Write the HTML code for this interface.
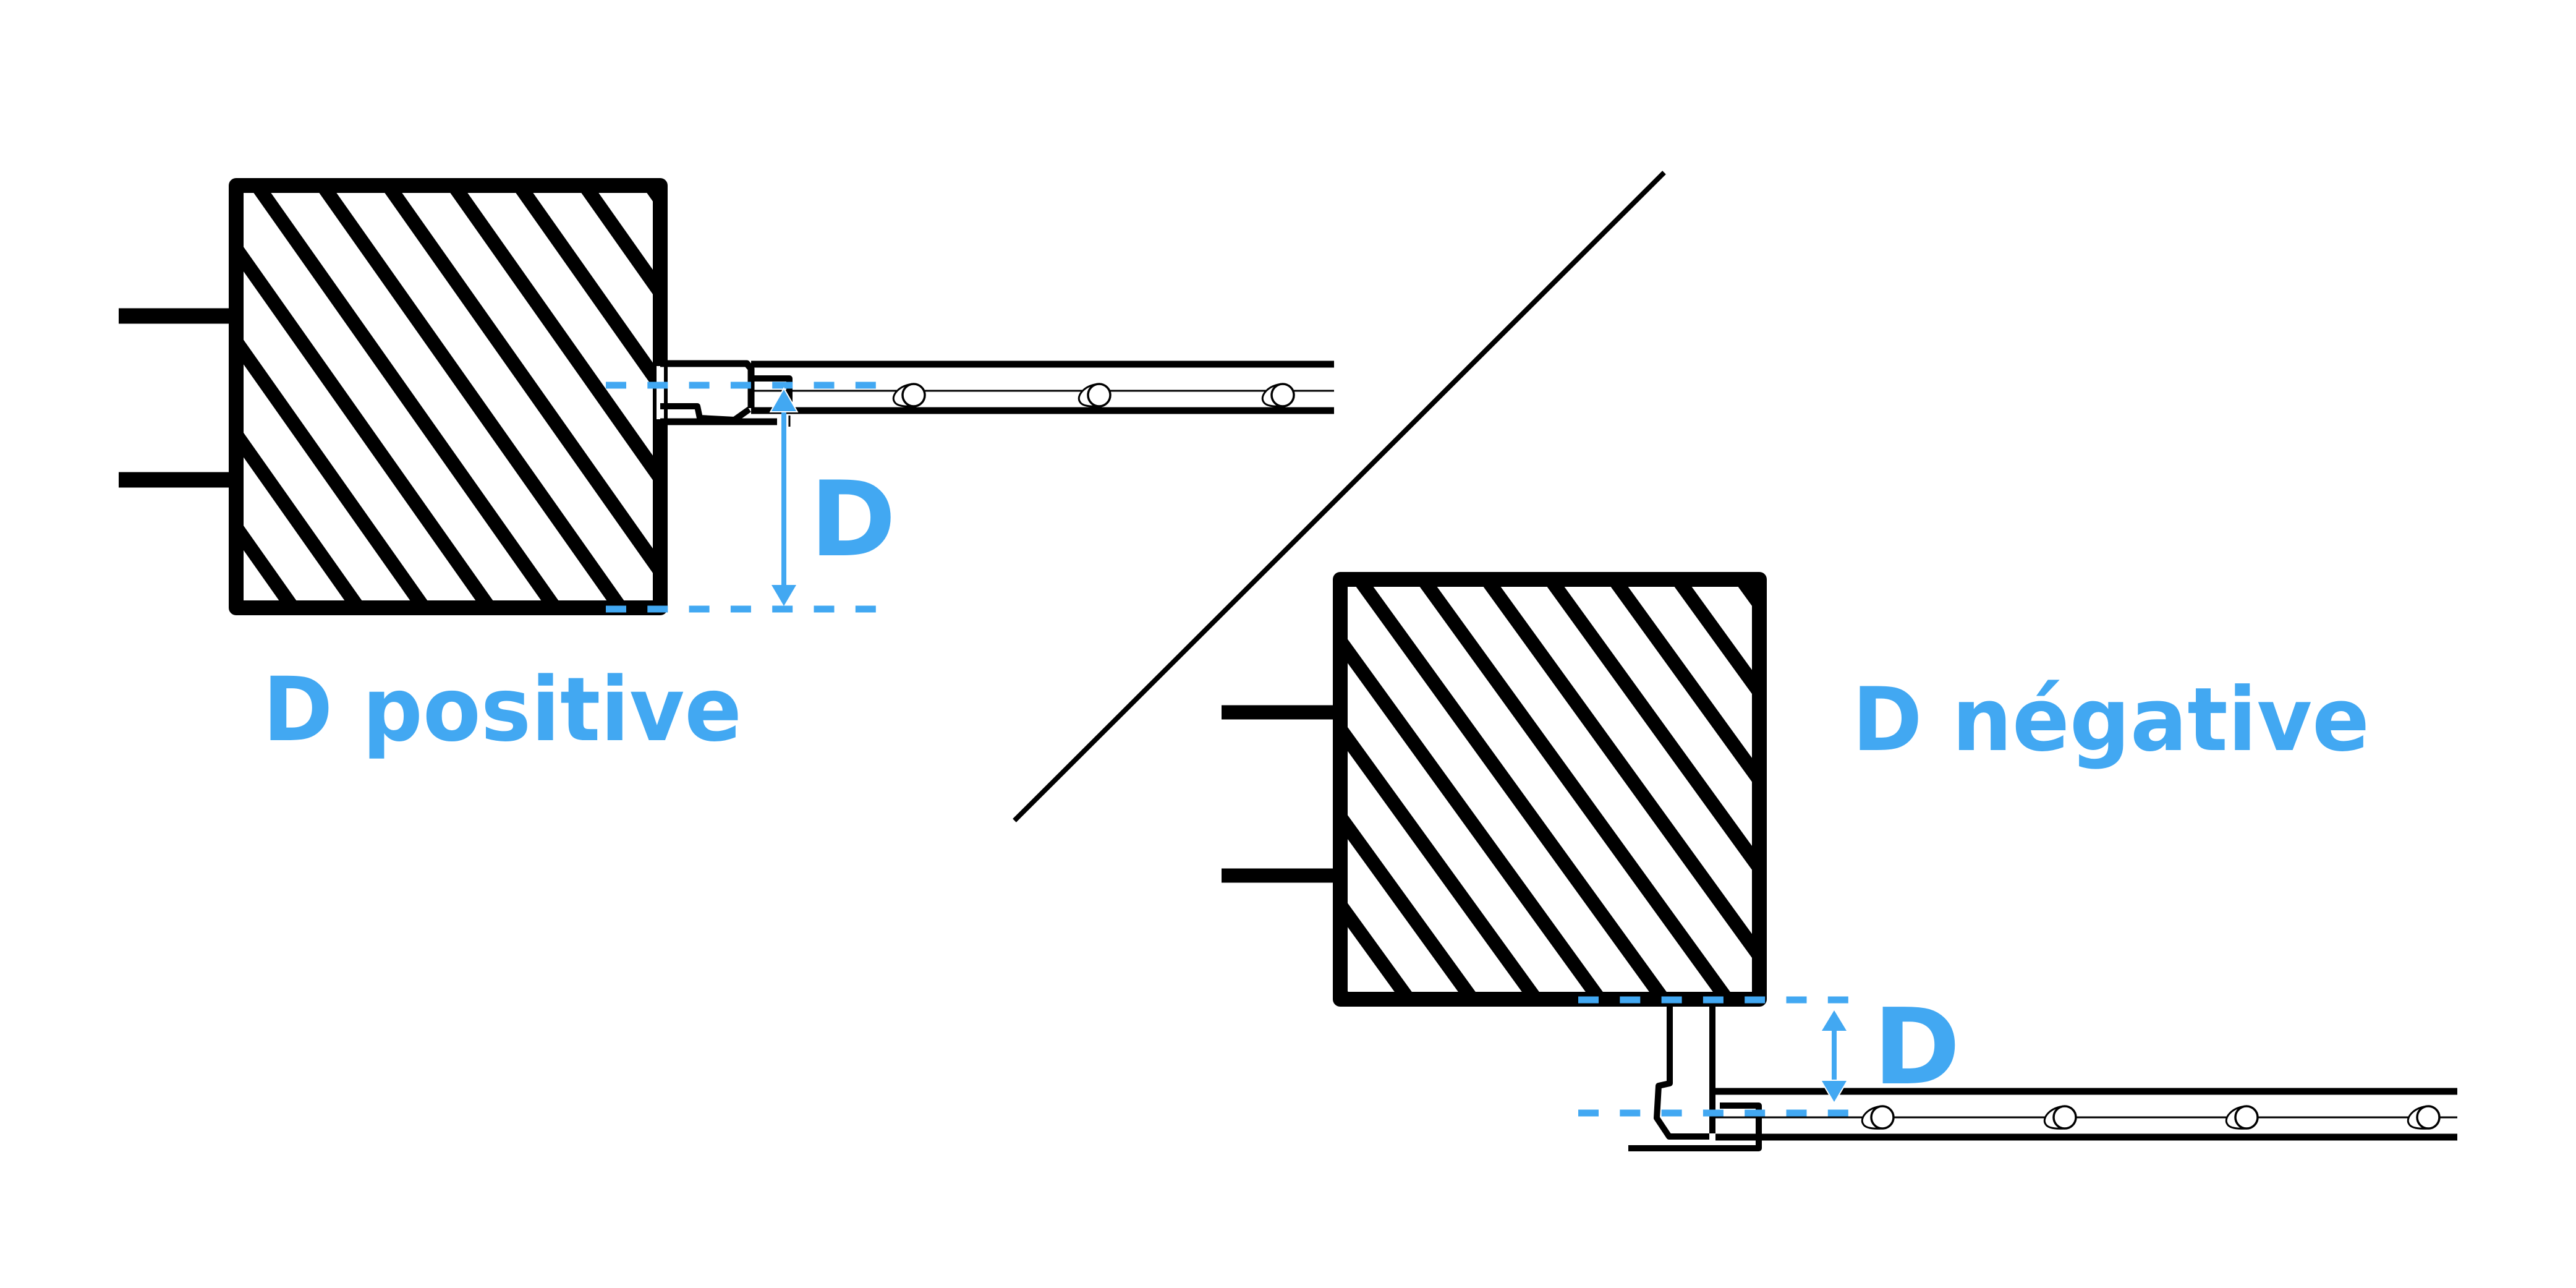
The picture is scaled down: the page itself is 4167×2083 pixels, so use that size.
<!DOCTYPE html>
<html><head><meta charset="utf-8"><style>
html,body{margin:0;padding:0;background:#fff;}
svg{display:block;}
text{font-family:"DejaVu Sans","Liberation Sans",sans-serif;font-weight:bold;fill:#42a8f2;}
</style></head><body>
<svg width="4167" height="2083" viewBox="0 0 4167 2083" xmlns="http://www.w3.org/2000/svg">
<defs>
  <pattern id="hL" patternUnits="userSpaceOnUse" x="190.3" y="0" width="106" height="4000" patternTransform="skewX(35.2)">
    <rect x="0" y="-10" width="28" height="4020" fill="#000"/>
  </pattern>
  <pattern id="hR" patternUnits="userSpaceOnUse" x="1506.7" y="0" width="103" height="4000" patternTransform="skewX(35.9)">
    <rect x="0" y="-10" width="28" height="4020" fill="#000"/>
  </pattern>
  <g id="roller">
    <path d="M1478,621 C1455,622 1440,640 1447,650 C1450,656 1462,658 1478,657" fill="#fff" stroke="#000" stroke-width="3"/>
    <ellipse cx="1478" cy="639" rx="18" ry="18" fill="#fff" stroke="#000" stroke-width="3.5"/>
  </g>
</defs>

<!-- LEFT box -->
<rect x="394" y="312" width="662" height="659" fill="url(#hL)"/>
<rect x="382" y="300" width="686" height="683" fill="none" stroke="#000" stroke-width="24" stroke-linejoin="round"/>
<line x1="192" y1="511" x2="382" y2="511" stroke="#000" stroke-width="25"/>
<line x1="192" y1="776" x2="382" y2="776" stroke="#000" stroke-width="25"/>
<rect x="1062" y="592" width="12" height="86" fill="#fff"/>

<!-- LEFT fitting & pipe -->
<g stroke="#000" fill="none" stroke-linejoin="round">
  <polyline points="1068,588 1208,588 1215,596 1215,660" stroke-width="11"/>
  <line x1="1215" y1="589" x2="2158" y2="589" stroke-width="11"/>
  <polyline points="1215,612 1277,612 1277,650" stroke-width="10"/>
  <line x1="1277" y1="672" x2="1277" y2="690" stroke-width="3"/>
  <line x1="1218" y1="632" x2="2158" y2="632" stroke-width="3"/>
  <line x1="1215" y1="664" x2="2158" y2="664" stroke-width="11"/>
  <polyline points="1068,657 1128,657 1132,676 1188,679 1212,662" stroke-width="10"/>
  <line x1="1068" y1="682" x2="1257" y2="682" stroke-width="11"/>
</g>
<use href="#roller"/>
<use href="#roller" x="300"/>
<use href="#roller" x="597"/>

<!-- LEFT blue dims -->
<g stroke="#42a8f2" stroke-width="11" stroke-dasharray="33 34.3">
  <line x1="980" y1="623" x2="1420" y2="623"/>
  <line x1="980" y1="985" x2="1420" y2="985"/>
</g>
<line x1="1268" y1="660" x2="1268" y2="952" stroke="#42a8f2" stroke-width="8"/>
<polygon points="1268,630 1288,665 1248,665" fill="#42a8f2" stroke="#fff" stroke-width="4" paint-order="stroke"/>
<polygon points="1268,980 1288,946 1248,946" fill="#42a8f2"/>
<text x="1310" y="898" font-size="168">D</text>
<text x="425" y="1197" font-size="143" textLength="775" lengthAdjust="spacingAndGlyphs">D positive</text>

<!-- diagonal divider -->
<line x1="1641" y1="1327" x2="2692" y2="279" stroke="#000" stroke-width="8"/>

<!-- RIGHT box -->
<rect x="2180" y="949" width="654" height="655" fill="url(#hR)"/>
<rect x="2168" y="937" width="678" height="679" fill="none" stroke="#000" stroke-width="24" stroke-linejoin="round"/>
<line x1="1976" y1="1152" x2="2168" y2="1152" stroke="#000" stroke-width="23"/>
<line x1="1976" y1="1416" x2="2168" y2="1416" stroke="#000" stroke-width="23"/>

<!-- RIGHT fitting & pipe -->
<g stroke="#000" fill="none" stroke-linejoin="round">
  <polyline points="2701,1628 2701,1752 2683,1756 2680,1808 2700,1838 2765,1838" stroke-width="10"/>
  <line x1="2770" y1="1628" x2="2770" y2="1833" stroke-width="10"/>
  <line x1="2770" y1="1765" x2="3975" y2="1765" stroke-width="11"/>
  <line x1="2775" y1="1839" x2="3975" y2="1839" stroke-width="11"/>
  <line x1="2775" y1="1807" x2="3975" y2="1807" stroke-width="3"/>
  <polyline points="2782,1788 2845,1788 2845,1857 2634,1857" stroke-width="10"/>
</g>
<use href="#roller" x="1567" y="1168"/>
<use href="#roller" x="1862" y="1168"/>
<use href="#roller" x="2156" y="1168"/>
<use href="#roller" x="2450" y="1168"/>

<!-- RIGHT blue dims -->
<g stroke="#42a8f2" stroke-width="11" stroke-dasharray="33 34.3">
  <line x1="2553" y1="1617" x2="2990" y2="1617"/>
  <line x1="2553" y1="1800" x2="2990" y2="1800"/>
</g>
<line x1="2967" y1="1660" x2="2967" y2="1755" stroke="#42a8f2" stroke-width="8"/>
<polygon points="2967,1634 2987,1667 2947,1667" fill="#42a8f2"/>
<polygon points="2967,1782 2987,1748 2947,1748" fill="#42a8f2" stroke="#fff" stroke-width="4" paint-order="stroke"/>
<text x="3030" y="1752" font-size="170">D</text>
<text x="2996" y="1213" font-size="142" textLength="837" lengthAdjust="spacingAndGlyphs">D négative</text>
</svg>
</body></html>
